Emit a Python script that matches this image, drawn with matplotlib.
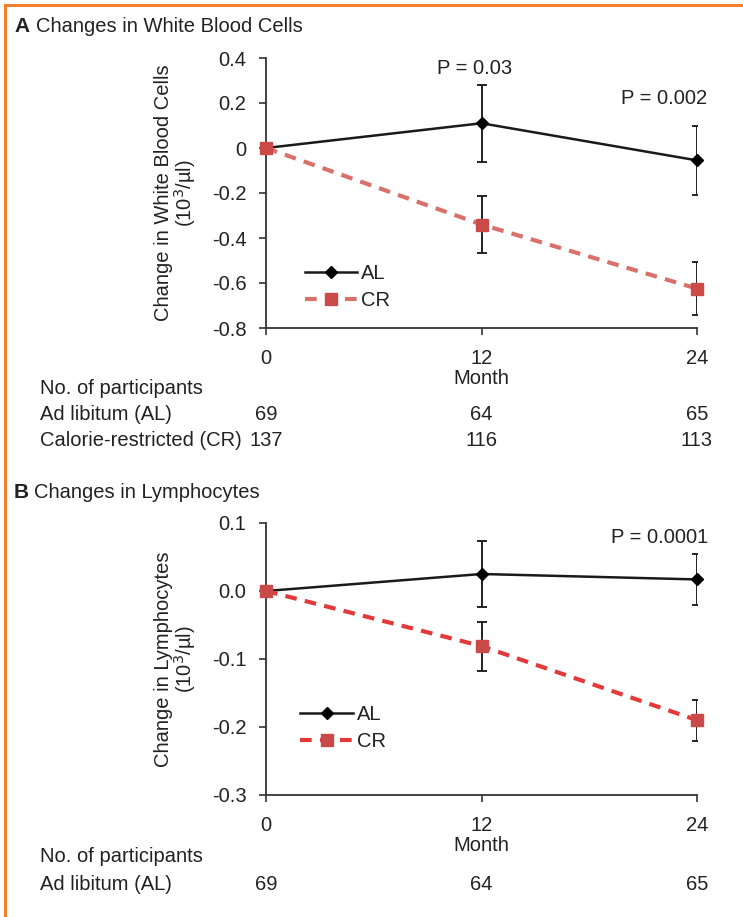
import matplotlib
matplotlib.use("Agg")
import matplotlib.pyplot as plt
import matplotlib.transforms as mtransforms
from matplotlib.lines import Line2D

plt.rcParams['font.family'] = ['Liberation Sans', 'DejaVu Sans']

# ---------------- data ----------------
months = [0, 12, 24]
month_ticks = ["0", "12", "24"]

wbc_al = [0.0, 0.11, -0.055]
wbc_al_err = [0.0, 0.172, 0.153]
wbc_cr = [0.0, -0.340, -0.625]
wbc_cr_err = [0.0, 0.127, 0.118]
wbc_yticks = [0.4, 0.2, 0, -0.2, -0.4, -0.6, -0.8]
wbc_yticklabels = ["0.4", "0.2", "0", "-0.2", "-0.4", "-0.6", "-0.8"]

lym_al = [0.0, 0.025, 0.017]
lym_al_err = [0.0, 0.049, 0.038]
lym_cr = [0.0, -0.081, -0.190]
lym_cr_err = [0.0, 0.036, 0.030]
lym_yticks = [0.1, 0.0, -0.1, -0.2, -0.3]
lym_yticklabels = ["0.1", "0.0", "-0.1", "-0.2", "-0.3"]

n_al = [69, 64, 65]
n_cr = [137, 116, 113]

# ---------------- figure ----------------
W, H = 743, 917
fig = plt.figure(figsize=(W / 100, H / 100), dpi=100)
fig.patch.set_facecolor("white")

TXT = "#222222"
FS = 14.5


def fx(px):
    return px / W


def fy(py):
    return 1 - py / H


def make_panel(rect, al, al_err, cr, cr_err, yticks, yticklabels, ylim, ylabel,
               cr_color, cr_marker_color, legend_anchor):
    ax = fig.add_axes(rect)
    ax.set_xlim(0, 24)
    ax.set_ylim(*ylim)
    for s in ("top", "right"):
        ax.spines[s].set_visible(False)
    for s in ("left", "bottom"):
        ax.spines[s].set_color("#333333")
        ax.spines[s].set_linewidth(1.3)
    ax.set_xticks(months)
    ax.set_xticklabels(month_ticks)
    ax.set_yticks(yticks)
    ax.set_yticklabels(yticklabels)
    ax.tick_params(axis="y", direction="out", length=5, width=1.2, pad=9,
                   labelsize=FS, colors="#333333", labelcolor=TXT)
    ax.tick_params(axis="x", direction="out", length=5, width=1.2, pad=10,
                   labelsize=FS, colors="#333333", labelcolor=TXT)
    ax.set_xlabel("Month", fontsize=FS, color=TXT, labelpad=1)
    ax.set_ylabel(ylabel, fontsize=FS, color=TXT, labelpad=10,
                  linespacing=0.95)
    ax.patch.set_alpha(0)

    ax.errorbar(months[1:], al[1:], yerr=al_err[1:], fmt="none",
                ecolor="#222222", elinewidth=1.4, capsize=3.5, capthick=1.4,
                zorder=2)
    ax.errorbar(months[1:], cr[1:], yerr=cr_err[1:], fmt="none",
                ecolor="#222222", elinewidth=1.4, capsize=3.5, capthick=1.4,
                zorder=2)
    ax.plot(months, al, color="#1a1a1a", lw=1.8, marker="D", ms=6,
            mfc="#000000", mec="#000000", zorder=3, label="AL",
            clip_on=False)
    ax.plot(months, cr, color=cr_color, lw=3, ls=(0, (2.8, 2.0)),
            marker="s", ms=9, mfc=cr_marker_color, mec=cr_marker_color,
            zorder=4, label="CR", clip_on=False)

    leg = ax.legend(loc="lower left", bbox_to_anchor=legend_anchor,
                    frameon=False, fontsize=FS, handlelength=2.6,
                    handletextpad=0.2, labelspacing=0.4, borderaxespad=0,
                    borderpad=0)
    for t in leg.get_texts():
        t.set_color(TXT)
    return ax


axA = make_panel([fx(266), fy(328), fx(697) - fx(266), fy(58) - fy(328)],
                 wbc_al, wbc_al_err, wbc_cr, wbc_cr_err,
                 wbc_yticks, wbc_yticklabels, (-0.8, 0.4),
                 "Change in White Blood Cells\n(10$^3$/µl)",
                 "#d8706c", "#cc4a48", (0.09, 0.065))

axB = make_panel([fx(266), fy(795), fx(697) - fx(266), fy(523) - fy(795)],
                 lym_al, lym_al_err, lym_cr, lym_cr_err,
                 lym_yticks, lym_yticklabels, (-0.3, 0.1),
                 "Change in Lymphocytes\n(10$^3$/µl)",
                 "#e23a3a", "#c94a48", (0.08, 0.16))

# P values
axA.text(11.6, 0.311, "P = 0.03", ha="center", va="bottom", fontsize=FS, color=TXT)
axA.text(24.55, 0.178, "P = 0.002", ha="right", va="bottom", fontsize=FS, color=TXT)
axB.text(24.6, 0.065, "P = 0.0001", ha="right", va="bottom", fontsize=FS, color=TXT)

# Panel titles
fig.text(fx(14), fy(27), "A", fontsize=15, fontweight="bold", color=TXT,
         va="center", ha="left")
fig.text(fx(36), fy(26), "Changes in White Blood Cells", fontsize=FS,
         color=TXT, va="center", ha="left")
fig.text(fx(14), fy(493), "B", fontsize=15, fontweight="bold", color=TXT,
         va="center", ha="left")
fig.text(fx(34), fy(492), "Changes in Lymphocytes", fontsize=FS,
         color=TXT, va="center", ha="left")

# participant tables
trA = mtransforms.blended_transform_factory(axA.transData, fig.transFigure)
trB = mtransforms.blended_transform_factory(axB.transData, fig.transFigure)

fig.text(fx(40), fy(389), "No. of participants", fontsize=FS, color=TXT,
         va="center", ha="left")
fig.text(fx(40), fy(415), "Ad libitum (AL)", fontsize=FS, color=TXT,
         va="center", ha="left")
fig.text(fx(40), fy(441), "Calorie-restricted (CR)", fontsize=FS, color=TXT,
         va="center", ha="left")
for m, a, c in zip(months, n_al, n_cr):
    fig.text(m, fy(415), str(a), transform=trA, fontsize=FS, color=TXT,
             va="center", ha="center")
    fig.text(m, fy(441), str(c), transform=trA, fontsize=FS, color=TXT,
             va="center", ha="center")

fig.text(fx(40), fy(857), "No. of participants", fontsize=FS, color=TXT,
         va="center", ha="left")
fig.text(fx(40), fy(884), "Ad libitum (AL)", fontsize=FS, color=TXT,
         va="center", ha="left")
for m, a in zip(months, n_al):
    fig.text(m, fy(884), str(a), transform=trB, fontsize=FS, color=TXT,
             va="center", ha="center")

# orange frame (top and left)
fig.add_artist(Line2D([fx(5), 1], [fy(5), fy(5)], color="#f07f2e", lw=2.2,
                      transform=fig.transFigure))
fig.add_artist(Line2D([fx(5), fx(5)], [fy(5), 0], color="#f07f2e", lw=2.2,
                      transform=fig.transFigure))

fig.savefig("out.png", dpi=100, facecolor="white")
